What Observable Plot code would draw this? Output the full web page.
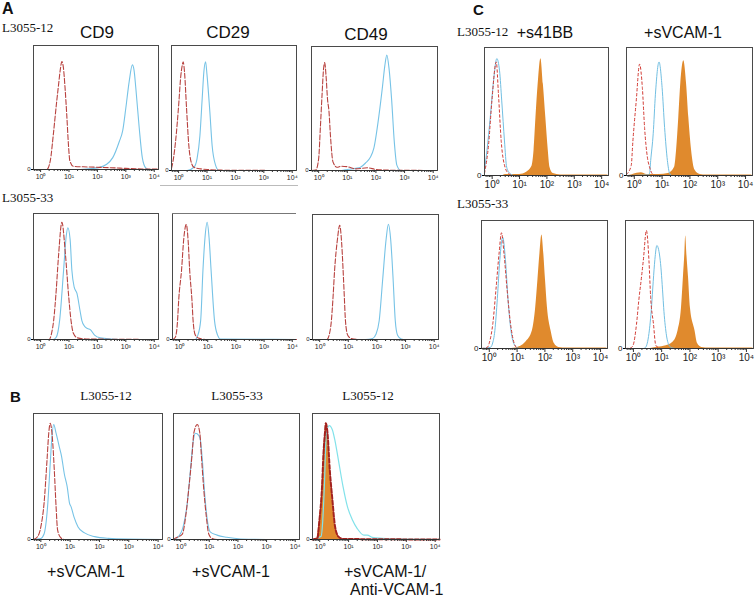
<!DOCTYPE html>
<html><head><meta charset="utf-8">
<script src="https://cdn.jsdelivr.net/npm/d3@7"></script>
<script src="https://cdn.jsdelivr.net/npm/@observablehq/plot@0.6"></script>
<style>
body{margin:0;background:#fff}
#fig{position:relative;width:755px;height:597px;overflow:hidden;background:#fff}
.lab{position:absolute;white-space:nowrap;line-height:1;color:#111}
svg{overflow:visible}
</style>
</head><body><div id="fig"></div>
<script>
// ---------- axis values ----------
const tickValues = [0, 1, 2, 3, 4];               // log10 of fluorescence intensity
const tickLabels = ["10⁰", "10¹", "10²", "10³", "10⁴"];

// ---------- data: [log10 intensity, relative count] ----------
// Panel A, L3055-12
const cd9_12_ctrl  = [[-0.25,0],[0.22,0],[0.34,8],[0.45,33],[0.57,64],[0.63,78],[0.69,92],[0.75,100],[0.80,95],[0.86,76],[0.92,51],[0.98,23],[1.03,8],[1.15,3],[1.5,2.5],[2.08,2],[2.6,1.5],[3.0,1],[3.57,0.5],[4.15,0.3]];
const cd9_12_stain = [[-0.25,0],[1.2,0],[1.61,0.5],[2.08,2],[2.31,4.6],[2.54,11],[2.77,26],[2.89,36],[3.0,57],[3.12,82],[3.23,97],[3.29,92],[3.35,76],[3.47,39],[3.58,11],[3.70,1.5],[3.81,0],[4.15,0]];
const cd29_12_ctrl  = [[-0.25,2],[-0.225,4.6],[-0.11,26],[0.01,63],[0.07,85],[0.13,97],[0.16,100],[0.21,90],[0.28,57],[0.36,23],[0.44,8],[0.54,3],[0.77,1.5],[1.1,0.8],[1.5,0.3],[4.15,0]];
const cd29_12_stain = [[-0.25,0],[0.3,0],[0.54,3],[0.65,11],[0.75,32],[0.83,66],[0.89,91],[0.95,100],[1.0,88],[1.1,54],[1.18,23],[1.3,5],[1.42,0],[4.15,0]];
const cd49_12_ctrl  = [[-0.25,0],[-0.1,0.5],[0.0,11],[0.06,40],[0.12,71],[0.17,94],[0.21,100],[0.26,87],[0.31,66],[0.36,55],[0.41,33],[0.50,8],[0.64,3],[0.8,4],[1.0,3.5],[1.3,1.5],[1.7,2.5],[2.0,1],[2.5,0.3],[4.15,0]];
const cd49_12_stain = [[-0.25,0],[0.8,0],[1.0,1],[1.3,2],[1.46,3],[1.64,7],[1.80,12],[1.93,21],[2.11,52],[2.23,78],[2.31,97],[2.38,107],[2.46,94],[2.55,65],[2.64,27],[2.73,5],[2.87,0],[4.15,0]];
// Panel A, L3055-33
const cd9_33_ctrl  = [[-0.25,0],[0.3,0],[0.38,5],[0.46,17.5],[0.55,45],[0.63,76],[0.75,107],[0.87,79],[0.98,42],[1.07,17.5],[1.15,6],[1.3,1.5],[1.6,0.5],[4.15,0]];
const cd9_33_stain = [[-0.25,0],[0.45,0],[0.55,2],[0.67,17.5],[0.81,63.5],[0.90,94],[0.96,102],[1.04,91],[1.10,63.5],[1.18,48],[1.28,42],[1.39,26],[1.45,17.5],[1.55,12],[1.65,10],[1.75,9],[1.9,4],[2.1,1.5],[2.5,0.5],[3.0,0],[4.15,0]];
const cd29_33_ctrl  = [[-0.25,0],[-0.15,2],[-0.07,17.5],[-0.03,36],[0.07,63],[0.15,92],[0.24,105],[0.31,88],[0.36,63],[0.44,36],[0.48,17.5],[0.56,4],[0.7,1],[1.0,0],[4.15,0]];
const cd29_33_stain = [[-0.25,0],[0.55,0],[0.65,4],[0.75,17.5],[0.83,63],[0.90,92],[0.98,107],[1.05,92],[1.12,63],[1.24,17.5],[1.35,4],[1.45,0.5],[4.15,0]];
const cd49_33_ctrl  = [[-0.25,0],[0.25,0],[0.33,4],[0.41,17.5],[0.47,40],[0.52,63],[0.62,92],[0.70,105],[0.77,88],[0.82,63],[0.86,40],[0.90,17.5],[0.98,4],[1.1,1],[1.4,0],[4.15,0]];
const cd49_33_stain = [[-0.25,0],[1.6,0],[1.85,1],[1.97,5],[2.08,17.5],[2.2,55],[2.32,92],[2.40,106],[2.48,92],[2.56,58],[2.64,17.5],[2.72,4],[2.85,0.5],[3.0,0],[4.15,0]];
// Panel B
const b12_ctrl  = [[-0.25,0],[-0.11,2.6],[0,11.5],[0.11,33],[0.21,72],[0.27,97],[0.32,106],[0.40,90.6],[0.46,63],[0.52,30],[0.57,9],[0.67,2],[0.8,0],[4.15,0]];
const b12_vcam  = [[-0.25,0],[0,1],[0.11,5],[0.23,30],[0.32,69],[0.37,90.6],[0.44,105],[0.52,97],[0.63,84.6],[0.71,75.5],[0.80,60],[0.90,48],[0.98,33],[1.03,30],[1.13,20.6],[1.27,11.5],[1.49,6],[1.84,2.6],[2.30,1],[3.0,0.3],[4.15,0]];
const b33_ctrl  = [[-0.25,0],[-0.2,1],[0.06,5],[0.17,20],[0.29,48],[0.40,78],[0.46,97],[0.58,105],[0.67,97],[0.72,78],[0.80,48],[0.90,20],[0.98,5],[1.1,1],[1.3,0],[4.15,0]];
const b33_vcam  = [[-0.25,0],[-0.1,2],[0.09,12],[0.23,33],[0.34,63],[0.44,90],[0.52,97],[0.63,95],[0.68,92],[0.75,75],[0.83,45],[0.92,20],[1.03,7],[1.27,4],[1.61,2],[2.1,0.5],[3.0,0],[4.15,0]];
const b12anti_fill = [[-0.1,0],[-0.02,15],[0.08,48],[0.13,78],[0.19,100],[0.21,106],[0.27,97],[0.35,63],[0.44,36],[0.53,12],[0.65,2.6],[0.75,0]];
const b12anti_ctrl = [[-0.25,0],[-0.08,1],[-0.02,15],[0.08,48],[0.13,78],[0.19,100],[0.21,106],[0.27,97],[0.35,63],[0.44,36],[0.53,12],[0.65,2.6],[0.8,0.5],[4.15,0]];
const b12anti_vcam = [[-0.25,0],[0.05,3],[0.1,15],[0.16,48],[0.23,97],[0.33,104],[0.44,100],[0.53,90],[0.67,69],[0.81,48],[0.96,30],[1.13,18],[1.30,10],[1.53,4],[1.65,4],[1.82,2],[2.17,1],[2.6,0.3],[4.15,0]];
// Panel C
const c12_41_ctrl  = [[-0.28,2],[-0.13,28],[-0.01,67],[0.15,102],[0.23,73],[0.33,31],[0.47,7.5],[0.6,1.8],[0.75,0],[4.25,0]];
const c12_41_blue  = [[-0.28,4],[-0.25,10.5],[-0.19,22.5],[-0.07,52],[0.05,85],[0.17,105],[0.27,94],[0.35,67],[0.45,31],[0.53,7.5],[0.65,1.8],[0.8,0],[4.25,0]];
const c12_41_fill  = [[0.4,0],[0.5,1],[1.0,1],[1.26,3],[1.45,8],[1.53,22.5],[1.60,52],[1.68,82],[1.78,105],[1.87,82],[1.96,52],[2.05,22.5],[2.11,7.5],[2.23,1.8],[2.5,0.5],[4.2,0.5],[4.25,0]];
const c12_vc_ctrl  = [[-0.28,1],[-0.11,9],[-0.05,31],[0.07,67],[0.19,100],[0.29,79],[0.37,43],[0.47,16.5],[0.55,7.5],[0.64,1.8],[0.75,0],[4.25,0]];
const c12_vc_blue  = [[-0.28,0],[0.5,0.5],[0.55,2],[0.59,13.5],[0.68,37.5],[0.76,73],[0.89,102],[1.0,79],[1.09,43],[1.19,13.5],[1.27,2],[1.35,0],[4.25,0]];
const c12_vc_fill  = [[-0.2,0],[-0.1,0.5],[0.1,2],[0.25,2.5],[0.45,1],[0.9,0.8],[1.22,1.8],[1.45,7.5],[1.52,22.5],[1.60,52],[1.67,82],[1.78,103],[1.88,82],[1.96,52],[2.06,22.5],[2.18,5],[2.37,1],[2.6,0.5],[4.2,0.5],[4.25,0]];
const c33_41_ctrl  = [[-0.28,0],[-0.07,1],[0.0,5],[0.13,23],[0.24,53],[0.35,85],[0.44,104],[0.53,85],[0.64,53],[0.76,23],[0.89,5],[0.98,1],[1.1,0],[4.25,0]];
const c33_41_blue  = [[-0.28,0],[0.04,1],[0.11,4],[0.2,16],[0.29,45],[0.38,80],[0.48,100],[0.58,80],[0.67,45],[0.78,16],[0.91,3],[1.02,0.5],[1.2,0],[4.25,0]];
const c33_41_fill  = [[0.8,0],[0.95,0.5],[1.13,2],[1.31,5.7],[1.55,16],[1.67,37],[1.75,62],[1.82,85],[1.89,102],[1.96,85],[2.02,62],[2.09,37],[2.22,16],[2.34,4.5],[2.5,1],[2.8,0.5],[4.2,0.5],[4.25,0]];
const c33_vc_ctrl  = [[-0.28,0],[-0.1,0.5],[-0.01,3],[0.11,22],[0.19,43],[0.29,65],[0.35,79],[0.46,106],[0.55,79],[0.61,46],[0.71,22],[0.79,3],[0.9,0.5],[1.0,0],[4.25,0]];
const c33_vc_blue  = [[-0.28,0],[0.35,0],[0.43,1],[0.55,13.5],[0.64,37],[0.70,60],[0.76,80],[0.83,92.5],[0.95,79],[1.04,49],[1.07,37],[1.16,13.5],[1.26,3],[1.37,0.5],[1.5,0],[4.25,0]];
const c33_vc_fill  = [[0.6,0],[0.79,1],[1.08,2],[1.40,5.7],[1.58,16],[1.70,36],[1.77,64],[1.82,85],[1.85,101],[1.89,85],[1.95,64],[2.02,36],[2.18,16],[2.27,4.5],[2.42,1],[2.7,0.5],[4.2,0.5],[4.25,0]];

// ---------- styling ----------
const RED_A = "#b8423f", BLUE_A = "#77c3e6";
const RED_C = "#d23a33", BLUE_C = "#72bfe2";
const ORANGE = "#e08a2d", RED_B3 = "#a3221f", CYAN = "#82e2ea";
const FRAME = "#4a4a4a";
const SANS = "'Liberation Sans', Arial, sans-serif";
const NARROW = "'Liberation Sans Narrow', 'Arial Narrow', 'Liberation Sans', Arial, sans-serif";
const SERIF = "'Liberation Serif', 'Times New Roman', serif";

const fig = document.getElementById("fig");
const toObj = arr => arr.map(([x, y]) => ({x, y}));
const minorAll = [];
for (const n of [-1, 0, 1, 2, 3]) for (let k = 2; k <= 9; k++) minorAll.push(n + Math.log10(k));

const DX_A = [-0.25, 4.15], DX_C = [-0.28, 4.25];

function panel(p) {
  const ml = 16, mr = 4, mt = 2, mb = 22;
  const w = p.x1 - p.x0, h = p.y1 - p.y0;
  const marks = [];
  for (const a of (p.areas || []))
    marks.push(Plot.areaY(toObj(a.data), {x: "x", y: "y", fill: a.fill, curve: "monotone-x"}));
  for (const l of p.lines)
    marks.push(Plot.line(toObj(l.data), {x: "x", y: "y", stroke: l.stroke, strokeWidth: l.width || 1, strokeDasharray: l.dash, curve: "monotone-x"}));
  if (p.noRight) {
    marks.push(Plot.ruleX([p.dx[0]], {stroke: FRAME}));
    marks.push(Plot.ruleY([115], {stroke: "#777"}));
  } else {
    marks.push(Plot.frame({stroke: FRAME, strokeWidth: 1}));
  }
  marks.push(Plot.ruleY([0], {stroke: "#333", strokeWidth: 1}));
  marks.push(Plot.axisX({ticks: minorAll.filter(t => t > p.dx[0] && t < p.dx[1]), tickSize: p.minor || 2, tickFormat: () => "", label: null, stroke: "#333"}));
  marks.push(Plot.axisX({ticks: tickValues, tickSize: p.major || 3, tickFormat: d => tickLabels[Math.round(d)], fontSize: p.fs, tickPadding: 1.5, label: null, stroke: "#333", fill: "#222"}));
  marks.push(Plot.axisY({ticks: [0], tickSize: 2, tickFormat: () => "0", fontSize: p.zfs, tickPadding: 1, label: null, fill: "#222"}));
  const svg = Plot.plot({
    width: w + ml + mr, height: h + mt + mb,
    marginLeft: ml, marginRight: mr, marginTop: mt, marginBottom: mb,
    x: {domain: p.dx, axis: null}, y: {domain: [0, 115], axis: null},
    style: {background: "transparent", overflow: "visible", fontFamily: SANS},
    marks
  });
  svg.style.position = "absolute";
  svg.style.left = (p.x0 - ml) + "px";
  svg.style.top = (p.y0 - mt) + "px";
  fig.appendChild(svg);
}

const dashA = "5,2", dashC = "2.5,2.5";
const pairA = (ctrl, stain) => [
  {data: stain, stroke: BLUE_A, width: 1.1},
  {data: ctrl, stroke: RED_A, width: 1.1, dash: dashA}
];
const tripleC = (ctrl, blue) => [
  {data: blue, stroke: BLUE_C, width: 1},
  {data: ctrl, stroke: RED_C, width: 1, dash: dashC}
];

// Panel A
panel({x0: 33, y0: 45, x1: 158, y1: 169, dx: DX_A, fs: 7, zfs: 6, lines: pairA(cd9_12_ctrl, cd9_12_stain)});
panel({x0: 171, y0: 45, x1: 296, y1: 170, dx: DX_A, fs: 7, zfs: 6, lines: pairA(cd29_12_ctrl, cd29_12_stain)});
panel({x0: 311, y0: 46, x1: 437, y1: 170, dx: DX_A, fs: 7, zfs: 6, lines: pairA(cd49_12_ctrl, cd49_12_stain)});
panel({x0: 33, y0: 213, x1: 158, y1: 339, dx: DX_A, fs: 7, zfs: 6, lines: pairA(cd9_33_ctrl, cd9_33_stain)});
panel({x0: 172, y0: 213, x1: 296, y1: 339, dx: DX_A, fs: 7, zfs: 6, noRight: true, lines: pairA(cd29_33_ctrl, cd29_33_stain)});
panel({x0: 312, y0: 214, x1: 438, y1: 339, dx: DX_A, fs: 7, zfs: 6, lines: pairA(cd49_33_ctrl, cd49_33_stain)});
// Panel B
panel({x0: 33, y0: 413, x1: 162, y1: 539, dx: DX_A, fs: 7, zfs: 6, lines: pairA(b12_ctrl, b12_vcam)});
panel({x0: 173, y0: 413, x1: 299, y1: 539, dx: DX_A, fs: 7, zfs: 6, lines: pairA(b33_ctrl, b33_vcam)});
panel({x0: 312, y0: 413, x1: 439, y1: 539, dx: DX_A, fs: 7, zfs: 6,
  areas: [{data: b12anti_fill, fill: ORANGE}],
  lines: [{data: b12anti_vcam, stroke: CYAN, width: 1.2}, {data: b12anti_ctrl, stroke: RED_B3, width: 2, dash: "4,2"}]});
// Panel C
panel({x0: 484, y0: 47, x1: 608, y1: 175, dx: DX_C, fs: 10, zfs: 8, major: 4, areas: [{data: c12_41_fill, fill: ORANGE}], lines: tripleC(c12_41_ctrl, c12_41_blue)});
panel({x0: 626, y0: 47, x1: 752, y1: 175, dx: DX_C, fs: 10, zfs: 8, major: 4, areas: [{data: c12_vc_fill, fill: ORANGE}], lines: tripleC(c12_vc_ctrl, c12_vc_blue)});
panel({x0: 481, y0: 220, x1: 607, y1: 348, dx: DX_C, fs: 10, zfs: 8, major: 4, areas: [{data: c33_41_fill, fill: ORANGE}], lines: tripleC(c33_41_ctrl, c33_41_blue)});
panel({x0: 625, y0: 220, x1: 753, y1: 348, dx: DX_C, fs: 10, zfs: 8, major: 4, areas: [{data: c33_vc_fill, fill: ORANGE}], lines: tripleC(c33_vc_ctrl, c33_vc_blue)});

// ---------- text ----------
function label(text, x, y, font, size, opts = {}) {
  const d = document.createElement("div");
  d.className = "lab";
  d.textContent = text;
  d.style.left = x + "px";
  d.style.top = y + "px";
  d.style.fontFamily = font;
  d.style.fontSize = size + "px";
  if (opts.bold) d.style.fontWeight = "bold";
  d.style.transform = (opts.middle ? "translateX(-50%) " : "") + "translateY(-50%)";
  fig.appendChild(d);
}
label("A", 2, 9, SANS, 16, {bold: true});
label("L3055-12", 2, 27, SERIF, 13);
label("CD9", 97, 31.5, NARROW, 17, {middle: true});
label("CD29", 228, 31.5, NARROW, 17, {middle: true});
label("CD49", 366, 33.5, NARROW, 17, {middle: true});
label("L3055-33", 2, 197, SERIF, 13);
label("B", 10, 395.5, SANS, 15, {bold: true});
label("L3055-12", 106, 395, SERIF, 13, {middle: true});
label("L3055-33", 237, 395, SERIF, 13, {middle: true});
label("L3055-12", 368, 395, SERIF, 13, {middle: true});
label("+sVCAM-1", 86, 572, NARROW, 16, {middle: true});
label("+sVCAM-1", 231, 572, NARROW, 16, {middle: true});
label("+sVCAM-1/", 344, 572, NARROW, 16);
label("Anti-VCAM-1", 350, 590, NARROW, 16);
label("C", 473, 9, SANS, 15, {bold: true});
label("L3055-12", 457, 31, SERIF, 13);
label("+s41BB", 545, 33, NARROW, 16, {middle: true});
label("+sVCAM-1", 683, 33, NARROW, 16, {middle: true});
label("L3055-33", 457, 203, SERIF, 13);

const sep = document.createElement("div");
sep.style.cssText = "position:absolute;left:160px;top:185px;width:138px;height:0;border-top:1px solid #bbb";
fig.appendChild(sep);
</script>
</body></html>
